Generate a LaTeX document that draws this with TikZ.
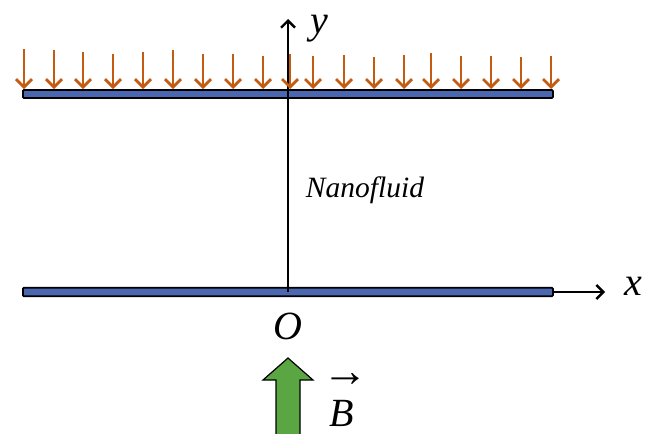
\documentclass[tikz,border=0pt]{standalone}
\usepackage{fontspec}
\setmainfont{Liberation Serif}
\usetikzlibrary{arrows.meta}
\definecolor{plateblue}{HTML}{4A67B0}
\definecolor{loadorange}{HTML}{C55A11}
\definecolor{fieldgreen}{HTML}{5AA642}
\tikzset{
  plate/.style={draw=black, line width=1.8pt, fill=plateblue, rounded corners=1pt},
  axis/.style={line width=2.4pt, -{Straight Barb[length=7pt,width=14pt,line width=2.4pt]}},
  load/.style={loadorange, line width=2.8pt, -{Straight Barb[length=8pt,width=16pt,line width=2.8pt]}},
  lbl/.style={font=\fontsize{40}{44}\selectfont\itshape, inner sep=0pt},
  fieldarrow/.style={draw=black, line width=1.2pt, fill=fieldgreen},
}
\begin{document}
\begin{tikzpicture}[x=1pt,y=-1pt]
\useasboundingbox (0,0) rectangle (654,434);
% plates
\node[plate, minimum width=530pt, minimum height=8pt, inner sep=0pt, anchor=west] (top) at (22,94) {};
\node[plate, minimum width=530pt, minimum height=8.5pt, inner sep=0pt, anchor=west] (bot) at (22,292) {};
% axes
\coordinate (origin) at (288,292);
\coordinate (ytip) at (288,19);
\coordinate (xtip) at (605,292);
\draw[axis] (origin) -- (ytip);
\draw[axis] (bot.east) -- (xtip);
\node[lbl] (ylab) at (319,29) {y};
\node[lbl] (xlab) at (633,286) {x};
\node[lbl] (olab) at (288,326) {O};
% load arrows
\foreach \i/\x/\t in {1/24/49,2/54/50,3/83/52,4/113/54,5/143/52,6/173/50,7/203/54,8/233/54,9/263/56,10/290/54,11/313/56,12/344/55,13/374/57,14/404/55,15/431/53,16/461/56,17/491/56,18/521/57,19/551/56}{
  \coordinate (a\i) at (\x,\t);
  \coordinate (b\i) at (\x,89);
  \draw[load] (a\i) -- (b\i);
}
% text
\node[font=\fontsize{29.5}{32}\selectfont\itshape, inner sep=0pt] (fluid) at (365,190) {Nanofluid};
% magnetic field arrow
\draw[fieldarrow] (276,436) -- (276,380) -- (263,380) -- (288,358) -- (313,380) -- (300,380) -- (300,436);
\node[lbl, anchor=base] (blab) at (342,426)
  {B};
\node[font=\fontsize{46}{46}\selectfont, inner sep=0pt] (barrow) at (345,380) {→};
\end{tikzpicture}
\end{document}
